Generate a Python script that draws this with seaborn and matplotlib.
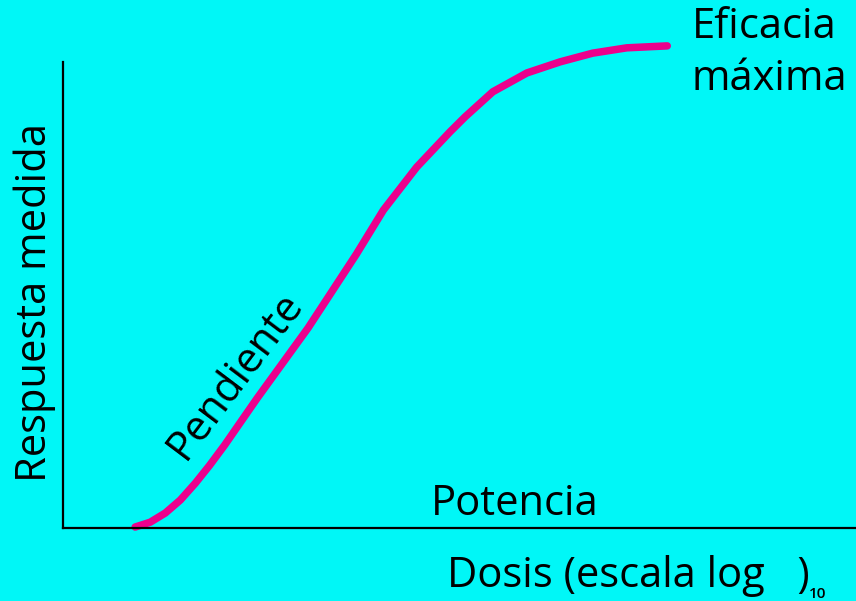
"""
plot.py
Dose-response curve (log scale) with efficacy, slope and potency labels.
"""

import pandas as pd
import matplotlib.pyplot as plt
import seaborn as sns

# Data (dose in log units, response in % of max)
dose = [0.91, 1.10, 1.29, 1.48, 1.67, 1.85, 2.04, 2.23, 2.45, 3.09,
        3.70, 4.04, 4.46, 4.88, 5.07, 5.42, 5.85, 6.27, 6.68, 7.11, 7.62]
response = [0.2, 1.2, 3.1, 5.8, 9.3, 13.0, 17.2, 21.7, 26.9, 41.4,
            56.7, 65.8, 74.7, 82.0, 85.1, 90.3, 94.2, 96.5, 98.3, 99.4, 99.8]

BG = '#00F7F7'
CURVE = '#EC008C'

sns.set_style("white")
plt.rcParams['font.family'] = ['Open Sans', 'DejaVu Sans']
plt.rcParams['text.color'] = 'black'

df = pd.DataFrame({'dosis': dose, 'respuesta': response})

fig = plt.figure(figsize=(8.56, 6.01), dpi=100, facecolor=BG)
ax = fig.add_axes([63 / 856, 73 / 601, 1 - 63 / 856, 1 - 73 / 601])
ax.set_facecolor(BG)

sns.lineplot(data=df, x='dosis', y='respuesta', ax=ax, color=CURVE,
             linewidth=5.4, solid_capstyle='round', solid_joinstyle='round',
             clip_on=False)

ax.set_xlim(0, 10)
ax.set_ylim(0, 109.3)
ax.set_xticks([])
ax.set_yticks([])
ax.set_xlabel('')
ax.set_ylabel('')

for s in ['top', 'right']:
    ax.spines[s].set_visible(False)
for s in ['left', 'bottom']:
    ax.spines[s].set_color('black')
    ax.spines[s].set_linewidth(1.6)
ax.spines['left'].set_bounds(0, 96.5)

# Labels
fs = 30
fig.text(35 / 856, 1 - 302 / 601, 'Respuesta medida', rotation=90,
         ha='center', va='center', fontsize=fs)
fig.text(447 / 856, 1 - 576 / 601, 'Dosis (escala log   )', ha='left',
         va='center', fontsize=fs)
fig.text(809 / 856, 1 - 594 / 601, '10', ha='left', va='center',
         fontsize=11, fontweight='semibold')
ax.text(5.70, 4.9, 'Potencia', ha='center', va='center', fontsize=fs)
ax.text(7.93, 103.7, 'Eficacia', ha='left', va='center', fontsize=fs)
ax.text(7.93, 92.9, 'máxima', ha='left', va='center', fontsize=fs)
ax.text(2.17, 31.5, 'Pendiente', ha='center', va='center', fontsize=fs,
        rotation=53, rotation_mode='anchor')

fig.savefig('out.png', dpi=100, facecolor=BG)
